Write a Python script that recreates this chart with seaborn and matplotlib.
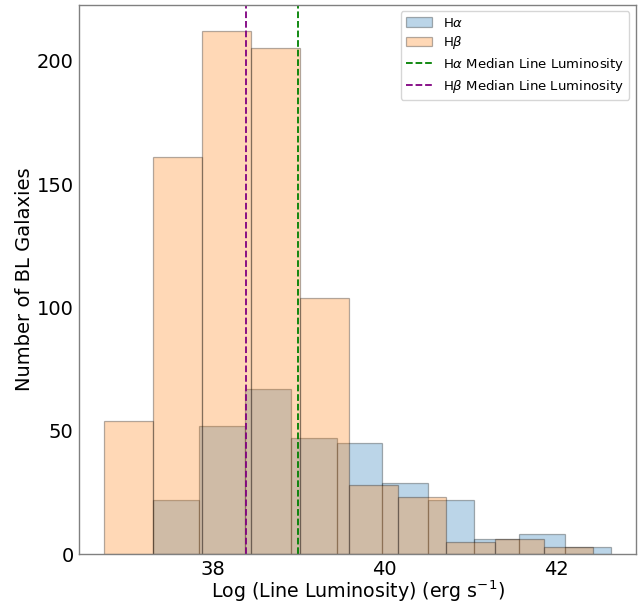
import numpy as np
import matplotlib
matplotlib.use("Agg")
import matplotlib.pyplot as plt
import seaborn as sns

# Bin edges (log line luminosity) and counts
ha_edges = [37.314, 37.845, 38.377, 38.908, 39.440, 39.971, 40.503, 41.034, 41.565, 42.097, 42.628]
ha_counts = [22, 52, 67, 47, 45, 29, 22, 6, 8, 3]
hb_edges = [36.744, 37.312, 37.879, 38.447, 39.014, 39.582, 40.149, 40.717, 41.284, 41.852, 42.419]
hb_counts = [54, 161, 212, 205, 104, 28, 23, 5, 6, 3]
ha_median = 38.988
hb_median = 38.384

sns.set_style("white")
plt.rcParams['font.family'] = ['DejaVu Sans']
plt.rcParams['text.color'] = 'black'
plt.rcParams['axes.labelcolor'] = 'black'
plt.rcParams['xtick.color'] = 'black'
plt.rcParams['ytick.color'] = 'black'

fig = plt.figure(figsize=(6.38, 6.05), dpi=100)
ax = fig.add_axes([0.124, 0.084, 0.873, 0.908])

ha_centers = [(a + b) / 2 for a, b in zip(ha_edges[:-1], ha_edges[1:])]
hb_centers = [(a + b) / 2 for a, b in zip(hb_edges[:-1], hb_edges[1:])]

edge = (0, 0, 0, 0.3)
sns.histplot(x=ha_centers, weights=ha_counts, bins=ha_edges, color='tab:blue',
             alpha=0.3, edgecolor=edge, linewidth=0.9, label=r'H$\alpha$', ax=ax)
sns.histplot(x=hb_centers, weights=hb_counts, bins=hb_edges, color='tab:orange',
             alpha=0.3, edgecolor=edge, linewidth=0.9, label=r'H$\beta$', ax=ax)
ax.axvline(ha_median, color='green', linestyle='--', linewidth=1.3,
           label=r'H$\alpha$ Median Line Luminosity')
ax.axvline(hb_median, color='purple', linestyle='--', linewidth=1.3,
           label=r'H$\beta$ Median Line Luminosity')

ax.set_xlim(36.45, 42.92)
ax.set_ylim(0, 222.6)
ax.set_xticks([38, 40, 42])
ax.set_yticks([0, 50, 100, 150, 200])
ax.set_xlabel(r'Log (Line Luminosity) (erg s$^{-1}$)', fontsize=13.7, labelpad=-0.5)
ax.set_ylabel('Number of BL Galaxies', fontsize=14, labelpad=2)
ax.tick_params(axis='both', labelsize=14, length=3, color='0.5', width=0.8, pad=1)
for s in ax.spines.values():
    s.set_color('0.5')
    s.set_linewidth(1.0)

handles, labels = ax.get_legend_handles_labels()
order = [labels.index(l) for l in [r'H$\alpha$', r'H$\beta$',
                                   r'H$\alpha$ Median Line Luminosity',
                                   r'H$\beta$ Median Line Luminosity']]
ax.legend([handles[i] for i in order], [labels[i] for i in order],
          loc='upper right', fontsize=9.5, labelspacing=0.35)

fig.savefig('out.png', dpi=100)
